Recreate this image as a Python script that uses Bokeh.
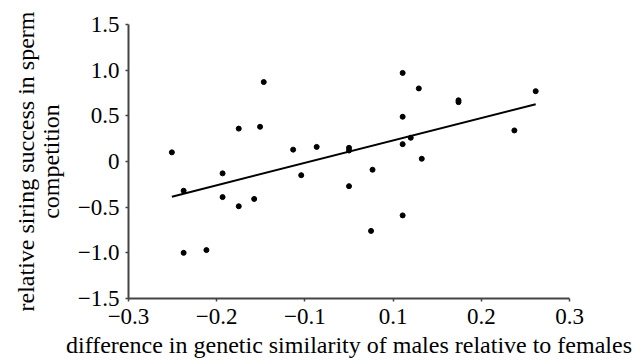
from bokeh.plotting import figure
from bokeh.models import FixedTicker, ColumnDataSource, CustomJSTickFormatter
from bokeh.embed import file_html
from bokeh.resources import INLINE

# data (x in the linear -0.3..0.3 plotting scale)
x_vals = [-0.241, -0.225, -0.225, -0.194, -0.172, -0.172, -0.150, -0.150, -0.129, -0.121,
          -0.116, -0.076, -0.065, -0.044, 0.000, 0.000, 0.000, 0.032, 0.030, 0.073,
          0.073, 0.073, 0.073, 0.084, 0.095, 0.099, 0.149, 0.149, 0.225, 0.254]
y_vals = [0.10, -0.32, -1.00, -0.97, -0.13, -0.39, 0.36, -0.49, -0.41, 0.38,
          0.87, 0.13, -0.15, 0.16, 0.15, 0.12, -0.27, -0.09, -0.76, 0.97,
          0.49, 0.19, -0.59, 0.26, 0.80, 0.03, 0.67, 0.65, 0.34, 0.77]

fit_x = [-0.241, 0.254]
fit_y = [-0.385, 0.627]

x_tick_pos = [-0.3, -0.18, -0.06, 0.06, 0.18, 0.3]
x_tick_labels = ["\u22120.3", "\u22120.2", "\u22120.1", "0.1", "0.2", "0.3"]
y_tick_pos = [-1.5, -1.0, -0.5, 0.0, 0.5, 1.0, 1.5]
y_tick_labels = ["\u22121.5", "\u22121.0", "\u22120.5", "0", "0.5", "1.0", "1.5"]

x_title = "difference in genetic similarity of males relative to females"
y_title = "relative siring success in sperm\ncompetition"

FONT = "Liberation Serif"

p = figure(width=643, height=360, x_range=(-0.3, 0.3), y_range=(-1.5, 1.5),
           output_backend="svg", toolbar_location=None,
           min_border_left=128, min_border_top=24, min_border_right=74,
           min_border_bottom=61)
p.outline_line_color = None
p.grid.grid_line_color = None
p.background_fill_color = "white"
p.border_fill_color = "white"

src = ColumnDataSource(dict(x=x_vals, y=y_vals))
p.scatter("x", "y", source=src, size=5, color="black")
p.line(fit_x, fit_y, line_color="black", line_width=2)

JS = """
let best = 0, d = 1e9;
for (let i = 0; i < pos.length; i++) {
  const e = Math.abs(pos[i] - tick);
  if (e < d) { d = e; best = i; }
}
return lab[best];
"""

for ax in (p.xaxis[0], p.yaxis[0]):
    ax.axis_line_color = "#444444"
    ax.axis_line_width = 2
    ax.major_tick_line_color = "#444444"
    ax.major_tick_line_width = 1.5
    ax.major_tick_in = 0
    ax.major_tick_out = 3
    ax.minor_tick_line_color = None
    ax.major_label_text_font = FONT
    ax.major_label_text_font_size = "23px"
    ax.major_label_text_color = "black"
    ax.axis_label_text_font = FONT
    ax.axis_label_text_font_size = "24px"
    ax.axis_label_text_font_style = "normal"
    ax.axis_label_text_color = "black"
    ax.axis_label_text_line_height = 0.95

p.xaxis.ticker = FixedTicker(ticks=x_tick_pos)
p.xaxis.formatter = CustomJSTickFormatter(args=dict(pos=x_tick_pos, lab=x_tick_labels), code=JS)
p.yaxis.ticker = FixedTicker(ticks=y_tick_pos)
p.yaxis.formatter = CustomJSTickFormatter(args=dict(pos=y_tick_pos, lab=y_tick_labels), code=JS)
p.xaxis.axis_label = x_title
p.yaxis.axis_label = y_title
p.xaxis.major_label_standoff = 7
p.yaxis.major_label_standoff = 6
p.xaxis.axis_label_standoff = 5
p.yaxis.axis_label_standoff = 11

open("out.html", "w").write(file_html(p, INLINE))
